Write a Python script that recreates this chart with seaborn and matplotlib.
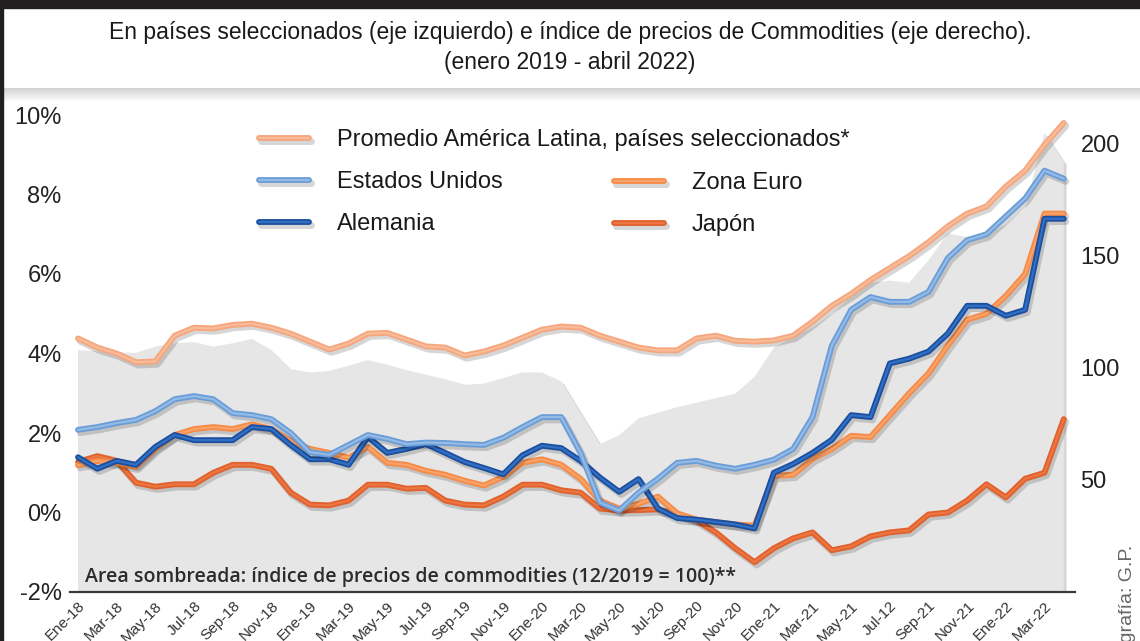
import numpy as np
import pandas as pd
import matplotlib
matplotlib.use("Agg")
import matplotlib.pyplot as plt
import matplotlib.patheffects as pe
from matplotlib.lines import Line2D
from matplotlib.patches import Rectangle
import seaborn as sns

# ---------------- data (monthly, Ene-2018 .. Abr-2022) ----------------
tick_labels = ["Ene-18", "Mar-18", "May-18", "Jul-18", "Sep-18", "Nov-18",
               "Ene-19", "Mar-19", "May-19", "Jul-19", "Sep-19", "Nov-19",
               "Ene-20", "Mar-20", "May-20", "Jul-20", "Sep-20", "Nov-20",
               "Ene-21", "Mar-21", "May-21", "Jul-12", "Sep-21", "Nov-21",
               "Ene-22", "Mar-22"]

latam = [4.38, 4.15, 4.00, 3.78, 3.80, 4.45, 4.65, 4.63, 4.72, 4.75,
         4.65, 4.50, 4.30, 4.10, 4.25, 4.50, 4.52, 4.35, 4.18, 4.15,
         3.95, 4.05, 4.20, 4.40, 4.60, 4.68, 4.65, 4.45, 4.30, 4.15,
         4.08, 4.08, 4.38, 4.45, 4.32, 4.30, 4.33, 4.45, 4.80, 5.20,
         5.50, 5.85, 6.15, 6.45, 6.80, 7.20, 7.52, 7.70, 8.20, 8.60,
         9.25, 9.80]

eeuu = [2.08, 2.15, 2.25, 2.33, 2.55, 2.85, 2.93, 2.85, 2.50, 2.45,
        2.35, 2.00, 1.52, 1.45, 1.70, 1.95, 1.85, 1.72, 1.76, 1.75,
        1.72, 1.70, 1.88, 2.15, 2.40, 2.40, 1.50, 0.25, 0.05, 0.50,
        0.85, 1.25, 1.30, 1.18, 1.10, 1.20, 1.33, 1.60, 2.40, 4.20,
        5.10, 5.42, 5.30, 5.30, 5.55, 6.40, 6.85, 7.00, 7.45, 7.90,
        8.60, 8.40]

alemania = [1.39, 1.10, 1.30, 1.20, 1.65, 1.95, 1.82, 1.82, 1.82, 2.15,
            2.10, 1.70, 1.34, 1.34, 1.20, 1.90, 1.50, 1.60, 1.72, 1.50,
            1.27, 1.12, 0.96, 1.44, 1.68, 1.62, 1.30, 0.88, 0.52, 0.84,
            0.10, -0.14, -0.18, -0.24, -0.30, -0.40, 1.00, 1.22, 1.50, 1.83,
            2.45, 2.40, 3.75, 3.87, 4.05, 4.50, 5.20, 5.20, 4.95, 5.10,
            7.39, 7.39]

zona_euro = [1.19, 1.30, 1.25, 1.15, 1.60, 1.95, 2.10, 2.15, 2.10, 2.22,
             2.10, 1.80, 1.60, 1.50, 1.38, 1.65, 1.25, 1.20, 1.05, 0.95,
             0.80, 0.68, 0.90, 1.25, 1.34, 1.20, 0.85, 0.30, 0.10, 0.22,
             0.40, -0.02, -0.18, -0.24, -0.30, -0.33, 0.92, 0.95, 1.35, 1.60,
             1.93, 1.90, 2.45, 3.00, 3.50, 4.20, 4.85, 5.00, 5.45, 6.00,
             7.52, 7.52]

japon = [1.27, 1.42, 1.30, 0.75, 0.65, 0.71, 0.71, 1.00, 1.20, 1.20,
         1.10, 0.50, 0.20, 0.18, 0.30, 0.70, 0.70, 0.60, 0.62, 0.30,
         0.20, 0.18, 0.40, 0.70, 0.70, 0.56, 0.50, 0.10, 0.05, 0.06,
         0.08, -0.04, -0.20, -0.50, -0.90, -1.25, -0.90, -0.65, -0.50, -0.95,
         -0.85, -0.60, -0.50, -0.45, -0.05, 0.00, 0.30, 0.71, 0.38, 0.85,
         1.00, 2.35]

commodities = [108, 107.5, 107, 106.7, 109.5, 111, 111.5, 109.5, 111, 113,
               108, 99.5, 98, 98.7, 101, 103.5, 101.5, 99, 97, 95,
               92.5, 93, 95.5, 98, 98, 94, 80, 66, 70, 77.5,
               80, 82.5, 84.5, 86.5, 88.5, 96, 109, 114, 118, 124,
               132, 138, 139, 138, 148, 160, 158.5, 160, 164, 171,
               205, 192]

names = ["Promedio América Latina, países seleccionados*", "Estados Unidos",
         "Alemania", "Zona Euro", "Japón"]

# ---------------- style ----------------
sns.set_theme(style="white")
MAIN = ["Liberation Sans Narrow", "Liberation Sans", "DejaVu Sans"]
plt.rcParams["font.family"] = MAIN

W, H = 1140, 641
fig = plt.figure(figsize=(W / 100, H / 100), dpi=100)
fig.patch.set_facecolor("white")


def fx(px):
    return px / W


def fy(py):
    return 1 - py / H


ax = fig.add_axes([fx(70), fy(592), (1075 - 70) / W, (592 - 115) / H])
ax2 = ax.twinx()
ax.set_zorder(ax2.get_zorder() + 1)
ax.patch.set_visible(False)

x = np.arange(len(latam))
df = pd.DataFrame({"x": x, "commodities": commodities})

# shaded commodity index (right axis)
poly = ax2.fill_between(df["x"], df["commodities"], 0, color="#E6E6E6", lw=0)
poly.set_path_effects([pe.SimplePatchShadow(offset=(2, -2), shadow_rgbFace="#7a7a7a", alpha=0.3),
                       pe.Normal()])


def effects(c, c2):
    return [pe.SimpleLineShadow(offset=(1.5, -2), shadow_color="#000000", alpha=0.16, linewidth=5),
            pe.Stroke(linewidth=4.2, foreground=c),
            pe.Stroke(linewidth=1.6, foreground=c2)]


series = [
    (japon, names[4], "#E0612B", "#EC7643"),
    (zona_euro, names[3], "#F68B47", "#F9A36B"),
    (alemania, names[2], "#1B4E9E", "#3270C4"),
    (eeuu, names[1], "#6A9DD8", "#94BAE6"),
    (latam, names[0], "#F5A67C", "#F8BC9B"),
]
handles = {}
for vals, name, c, c2 in series:
    sns.lineplot(x=x, y=vals, ax=ax, color=c, lw=4.2, legend=False)
    ln = ax.lines[-1]
    ln.set_solid_joinstyle("round")
    ln.set_solid_capstyle("round")
    ln.set_path_effects(effects(c, c2))
    handles[name] = Line2D([0], [0], color=c, lw=4.2, solid_capstyle="round",
                           path_effects=effects(c, c2))

# axes limits & ticks
ax.set_xlim(-0.414, 51.58)
ax.set_ylim(-2, 10)
ax2.set_ylim(0, 212.9)

ax.set_xticks(np.arange(0, len(latam), 2))
ax.set_xticklabels(tick_labels, rotation=45, ha="right", rotation_mode="anchor",
                   fontsize=11, color="#333333", family=["Liberation Sans", "DejaVu Sans"])
ax.tick_params(axis="x", length=0, pad=5)

yt = [-2, 0, 2, 4, 6, 8, 10]
ax.set_yticks(yt)
ax.set_yticklabels([f"{v}%" for v in yt], fontsize=17, color="#222222")
ax.tick_params(axis="y", length=0, pad=6)

ax2.set_yticks([50, 100, 150, 200])
ax2.set_yticklabels(["50", "100", "150", "200"], fontsize=17, color="#222222")
ax2.tick_params(axis="y", length=0, pad=4)

for a in (ax, ax2):
    for s in a.spines.values():
        s.set_visible(False)
    a.grid(False)
    a.set_xlabel("")
    a.set_ylabel("")
ax.spines["bottom"].set_visible(True)
ax.spines["bottom"].set_color("#3a3a3a")
ax.spines["bottom"].set_linewidth(1.6)
ax.spines["bottom"].set_zorder(10)

# legends
leg_kw = dict(frameon=False, fontsize=17, handlelength=2.1, handletextpad=1.2,
              labelspacing=0.85, borderpad=0, borderaxespad=0, loc="upper left")
leg1 = fig.legend([handles[n] for n in names[:3]], names[:3],
                  bbox_to_anchor=(fx(259), fy(129)), **leg_kw)
leg2 = fig.legend([handles[n] for n in names[3:]], names[3:],
                  bbox_to_anchor=(fx(614), fy(172)), **leg_kw)
for lg in (leg1, leg2):
    for t in lg.get_texts():
        t.set_color("#1a1a1a")

# note inside the plot
fig.text(fx(85), fy(577), "Area sombreada: índice de precios de commodities (12/2019 = 100)**",
         fontsize=14, color="#2b2b2b", va="center", ha="left",
         family=["Open Sans", "Noto Sans", "DejaVu Sans"], fontweight=600)

# title block
fig.text(0.5, fy(32), "En países seleccionados (eje izquierdo) e índice de precios de Commodities (eje derecho).",
         ha="center", va="center", fontsize=16.5, color="#1a1a1a")
fig.text(0.5, fy(62), "(enero 2019 - abril 2022)", ha="center", va="center",
         fontsize=16.5, color="#1a1a1a")

# decorative frame elements
fig.patches.append(Rectangle((0, fy(8)), 1, 8 / H, transform=fig.transFigure,
                             color="#231F20", zorder=0))
fig.patches.append(Rectangle((0, 0), 3 / W, 1, transform=fig.transFigure,
                             color="#231F20", zorder=0))
axg = fig.add_axes([fx(3), fy(102), 1 - fx(3), 14 / H], zorder=-1)
grad = np.linspace(0.82, 1.0, 50).reshape(-1, 1)
axg.imshow(grad, cmap="gray", vmin=0, vmax=1, aspect="auto")
axg.axis("off")

# credit
fig.text(fx(1127), fy(545), "Infografía: G.P.", rotation=90, rotation_mode="anchor",
         ha="right", va="center", fontsize=14, color="#666666",
         family=["Liberation Sans", "DejaVu Sans"])

fig.savefig("out.png", dpi=100, facecolor="white")
